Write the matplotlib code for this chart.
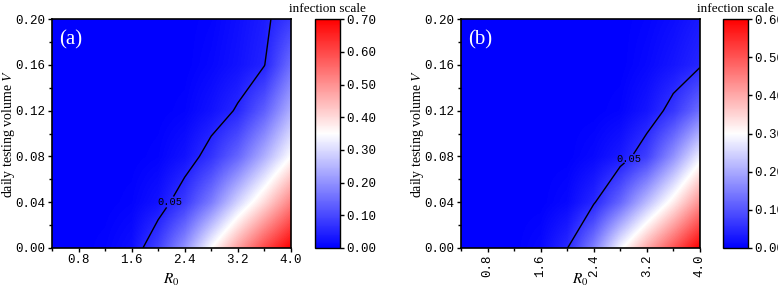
import numpy as np
import matplotlib
matplotlib.use("Agg")
import matplotlib.pyplot as plt
from matplotlib.ticker import MultipleLocator, FormatStrFormatter

plt.rcParams["mathtext.fontset"] = "stix"

# grid
r0 = [0.4, 0.8, 1.2, 1.6, 2.0, 2.4, 2.8, 3.2, 3.6, 4.0]
vol = [0.0, 0.04, 0.08, 0.12, 0.16, 0.20]

scale_a = [
    [0, 0, 0.005, 0.02, 0.09, 0.20, 0.35, 0.48, 0.60, 0.70],
    [0, 0, 0, 0.005, 0.025, 0.08, 0.17, 0.29, 0.40, 0.52],
    [0, 0, 0, 0, 0.005, 0.025, 0.07, 0.14, 0.24, 0.35],
    [0, 0, 0, 0, 0, 0.005, 0.025, 0.055, 0.13, 0.24],
    [0, 0, 0, 0, 0, 0, 0.01, 0.025, 0.048, 0.15],
    [0, 0, 0, 0, 0, 0, 0.005, 0.02, 0.04, 0.08],
]
scale_b = [
    [0, 0, 0, 0.01, 0.048, 0.15, 0.29, 0.40, 0.50, 0.60],
    [0, 0, 0, 0, 0.01, 0.045, 0.12, 0.22, 0.32, 0.43],
    [0, 0, 0, 0, 0, 0.01, 0.03, 0.075, 0.17, 0.28],
    [0, 0, 0, 0, 0, 0, 0.005, 0.025, 0.065, 0.13],
    [0, 0, 0, 0, 0, 0, 0, 0.01, 0.025, 0.045],
    [0, 0, 0, 0, 0, 0, 0, 0.005, 0.015, 0.03],
]

panels = [
    ("(a)", scale_a, 0.70, (2.21, 0.039), [0.0668, 0.405], 0),
    ("(b)", scale_b, 0.60, (2.95, 0.077), [0.5925, 0.929], 90),
]

tickfont = "Liberation Mono"
serif = "Liberation Serif"

fig = plt.figure(figsize=(7.78, 2.9), dpi=100)
X, Y = np.meshgrid(r0, vol)
dx = (r0[1] - r0[0]) / 2
dy = (vol[1] - vol[0]) / 2

for tag, z, vmax, lab_pos, (axl, cbl), rot in panels:
    Z = np.array(z)
    ax = fig.add_axes([axl, 0.145, 0.307, 0.789])
    im = ax.imshow(Z, cmap="bwr", vmin=0, vmax=vmax, origin="lower", aspect="auto",
                   interpolation="bilinear",
                   extent=(r0[0] - dx, r0[-1] + dx, vol[0] - dy, vol[-1] + dy))
    cs = ax.contour(X, Y, Z, levels=[0.05], colors="k", linewidths=1.0)
    lbl = ax.clabel(cs, fmt="%.2f", manual=[lab_pos], inline=True, inline_spacing=-6,
                    fontsize=7.5)
    for t in lbl:
        t.set_family(tickfont)
        t.set_rotation(0)
    ax.set_xlim(0.4, 4.0)
    ax.set_ylim(0, 0.2)
    ax.xaxis.set_major_locator(MultipleLocator(0.8))
    ax.xaxis.set_minor_locator(MultipleLocator(0.4))
    ax.yaxis.set_major_locator(MultipleLocator(0.04))
    ax.yaxis.set_minor_locator(MultipleLocator(0.02))
    ax.xaxis.set_major_formatter(FormatStrFormatter("%.1f"))
    ax.yaxis.set_major_formatter(FormatStrFormatter("%.2f"))
    ax.tick_params(which="major", length=3, width=1, direction="out", labelsize=9, pad=1.5)
    ax.tick_params(which="minor", length=2, width=1, direction="out")
    for t in ax.get_xticklabels() + ax.get_yticklabels():
        t.set_family(tickfont)
    for t in ax.get_xticklabels():
        t.set_rotation(rot)
    for s in ax.spines.values():
        s.set_linewidth(1.2)
    ax.set_xlabel(r"$R_0$", fontsize=11, family=serif)
    ax.xaxis.set_label_coords(0.5, -0.105)
    ax.set_ylabel("daily testing volume $V$", fontsize=10, family=serif)
    ax.yaxis.set_label_coords(-0.145, 0.5)
    ax.text(0.03, 0.95, tag, transform=ax.transAxes, color="white",
            fontsize=15, family=serif, va="top", ha="left")

    cax = fig.add_axes([cbl, 0.145, 0.032, 0.789])
    cb = fig.colorbar(im, cax=cax, ticks=np.arange(0, vmax + 0.001, 0.1))
    cb.ax.yaxis.set_major_formatter(FormatStrFormatter("%.2f"))
    cb.ax.tick_params(length=3, width=1, labelsize=9, pad=1.5)
    for t in cb.ax.get_yticklabels():
        t.set_family(tickfont)
    cb.outline.set_linewidth(1.0)
    cax.set_title("infection scale", fontsize=9.5, family=serif, pad=5)

fig.savefig("out.png", dpi=100)
